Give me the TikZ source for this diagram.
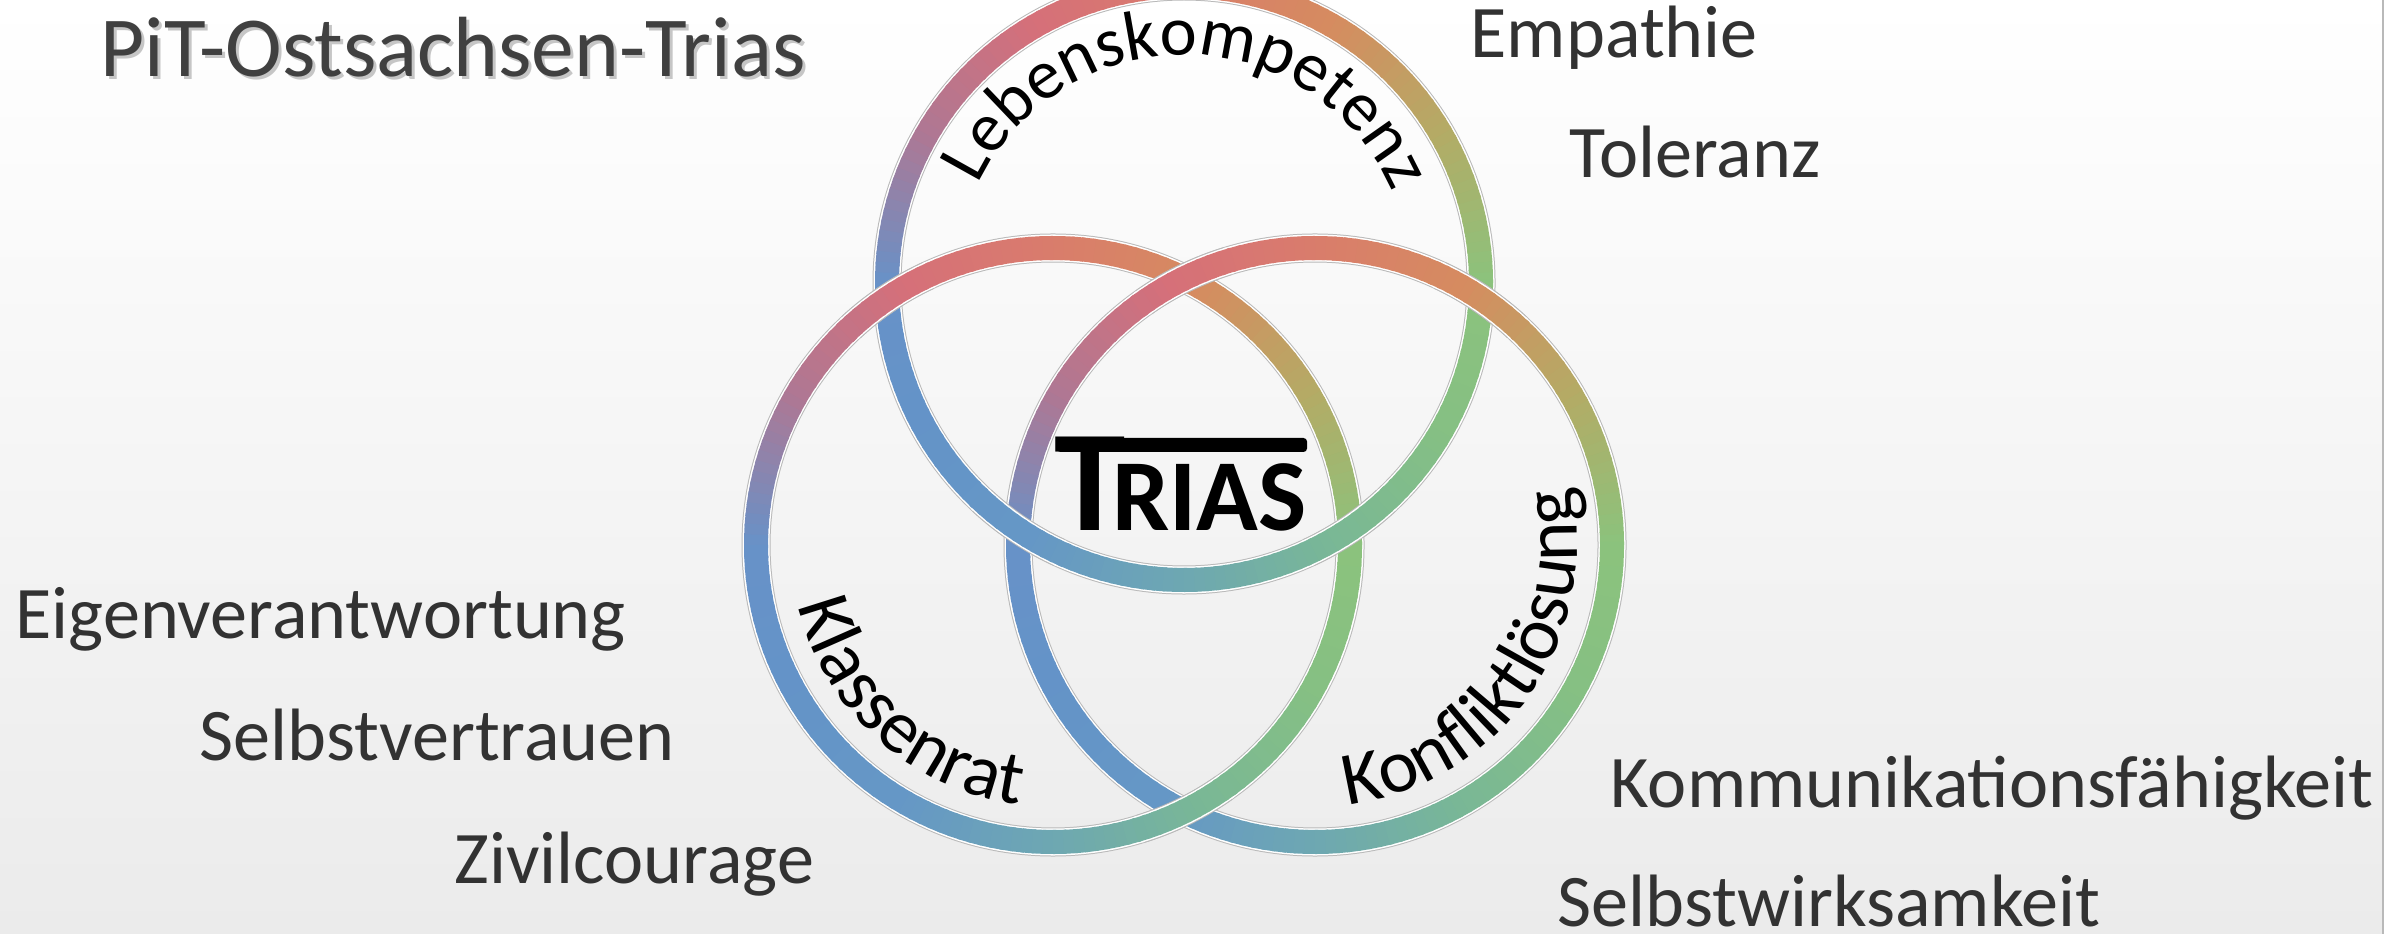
\documentclass[tikz,border=0pt]{standalone}
\usepackage{fontspec}
\setmainfont{Carlito}
\usetikzlibrary{decorations.text}
\definecolor{bgbot}{RGB}{235,235,235}
\definecolor{labc}{RGB}{50,50,50}
\definecolor{titc}{RGB}{64,64,64}
\definecolor{edgec}{RGB}{185,185,185}
\def\RR{{140,180,214,218,214,175,104,100,102,110,122,134,140}}
\def\GG{{195,172,140,125,112,120,146,148,152,168,184,192,195}}
\def\BB{{125,102,96,108,122,148,200,200,198,178,150,132,125}}
\newcommand\ringband[3]{%
  \pgfmathsetmacro\rgfrom{#2}%
  \pgfmathsetmacro\rgnext{#2+2}%
  \pgfmathsetmacro\rgto{#3}%
  \foreach \ang in {\rgfrom,\rgnext,...,\rgto}{%
    \pgfmathsetmacro\rgan{mod(\ang+721,360)}%
    \pgfmathtruncatemacro\rgi{floor(\rgan/30)}%
    \pgfmathtruncatemacro\rgj{\rgi+1}%
    \pgfmathsetmacro\rgf{(\rgan-30*\rgi)/30}%
    \pgfmathtruncatemacro\rgR{\RR[\rgi]*(1-\rgf)+\RR[\rgj]*\rgf}%
    \pgfmathtruncatemacro\rgG{\GG[\rgi]*(1-\rgf)+\GG[\rgj]*\rgf}%
    \pgfmathtruncatemacro\rgB{\BB[\rgi]*(1-\rgf)+\BB[\rgj]*\rgf}%
    \definecolor{segc}{RGB}{\rgR,\rgG,\rgB}%
    \draw[segc, line width=0.24cm] (#1) ++(\ang:297) arc[start angle=\ang, end angle=\ang+2.6, radius=297];
  }%
}
\newcommand\ringfull[1]{%
  \draw[edgec, line width=0.29cm] (#1) circle[radius=297];
  \draw[white, line width=0.27cm] (#1) circle[radius=297];
  \ringband{#1}{0}{358}}
\newcommand\ringover[2]{%
  \draw[edgec, line width=0.29cm] (#1) ++(#2-9:297) arc[start angle=#2-9, end angle=#2+9, radius=297];
  \draw[white, line width=0.27cm] (#1) ++(#2-9.5:297) arc[start angle=#2-9.5, end angle=#2+9.5, radius=297];
  \ringband{#1}{#2-10}{#2+8}}
\newcommand\rfA{\fontsize{20}{24}\selectfont}
\newcommand\rfB{\fontsize{21.5}{26}\selectfont}
\tikzset{
  lab/.style={anchor=base west, text=labc, font=\fontsize{21.1}{25}\selectfont, inner sep=0pt},
}
\begin{document}
\begin{tikzpicture}[x=0.01cm, y=0.01cm]
\useasboundingbox (0,0) rectangle (2404,-934);
\clip (0,0) rectangle (2404,-934);
\shade[top color=white, bottom color=bgbot] (0,0) rectangle (2404,-934);
\fill[white] (2383,0) rectangle (2404,-934);
\draw[edgec, line width=0.5pt] (2383,0) -- (2383,-934);

\coordinate (C1) at (1184,-283);
\coordinate (C2) at (1053,-545);
\coordinate (C3) at (1315,-545);

\ringfull{C1}
\ringfull{C2}
\ringfull{C3}
\ringover{C2}{123.88}
\ringover{C3}{56.12}
\ringover{C1}{303.88}
\ringover{C1}{236.12}
\ringover{C3}{116.17}
\ringover{C2}{296.17}

% curved ring labels
\path (C1) ++(164:228) coordinate (lkstart);
\path[decorate, decoration={text along path, text={|\rfA|Lebenskompetenz}, text align=center, text color=black}]
  (lkstart) arc[start angle=164, end angle=14, radius=228];
\path (C2) ++(188:262) coordinate (krstart);
\path[decorate, decoration={text along path, text={|\rfB|Klassenrat}, text align=center, text color=black}]
  (krstart) arc[start angle=188, end angle=268, radius=262];
\path (C3) ++(270:262) coordinate (klstart);
\path[decorate, decoration={text along path, text={|\rfB|Konfliktlösung}, text align=center, text color=black}]
  (klstart) arc[start angle=270, end angle=380, radius=262];

% centre logo
\node[anchor=base west, inner sep=0pt, font=\bfseries, text=black] (trias) at (1054,-531)
  {{\fontsize{41}{41}\selectfont T}\kern-4pt{\fontsize{29}{29}\selectfont RIAS}};
\fill[black, rounded corners=1pt] (1057,-438) rectangle (1307,-452);

% title
\node[anchor=base west, inner sep=0pt, text=gray!45, font=\fontsize{24.3}{29}\selectfont] (titleshadow) at (103,-80) {PiT-Ostsachsen-Trias};
\node[anchor=base west, inner sep=0pt, text=titc, font=\fontsize{24.3}{29}\selectfont] (title) at (100,-77) {PiT-Ostsachsen-Trias};

% side labels
\node[lab] (empathie) at (1470,-58) {Empathie};
\node[lab] (toleranz) at (1569,-178) {Toleranz};
\node[lab] (eigen) at (15,-638) {Eigenverantwortung};
\node[lab] (selbstv) at (199,-760) {Selbstvertrauen};
\node[lab] (zivil) at (454,-883) {Zivilcourage};
\node[lab] (komm) at (1610,-807) {Kommunikationsfähigkeit};
\node[lab] (selbstw) at (1557,-926) {Selbstwirksamkeit};
\end{tikzpicture}
\end{document}
